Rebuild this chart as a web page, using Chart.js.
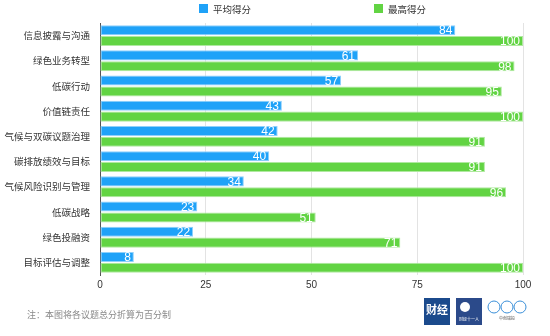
<!DOCTYPE html>
<html>
<head>
<meta charset="utf-8">
<script src="https://cdn.jsdelivr.net/npm/chart.js@4.4.0/dist/chart.umd.min.js"></script>
<style>
html,body{margin:0;padding:0;background:#fff;}
#wrap{position:relative;width:550px;height:336px;}
</style>
</head>
<body>
<div id="wrap"><canvas id="c" width="550" height="336"></canvas></div>
<script>
const categories = ["信息披露与沟通","绿色业务转型","低碳行动","价值链责任","气候与双碳议题治理","碳排放绩效与目标","气候风险识别与管理","低碳战略","绿色投融资","目标评估与调整"];
const avgScores = [84,61,57,43,42,40,34,23,22,8];
const maxScores = [100,98,95,100,91,91,96,51,71,100];
const xTicks = [0,25,50,75,100];
const seriesNames = ["平均得分","最高得分"];
const footnote = "注：本图将各议题总分折算为百分制";

const FONT = '"Noto Sans CJK SC", "Noto Sans", sans-serif';

const labelPlugin = {
  id: 'labels',
  afterDatasetsDraw(chart) {
    const ctx = chart.ctx;
    ctx.save();
    ctx.fillStyle = '#fff';
    ctx.font = '12px "Liberation Sans", Arial, sans-serif';
    ctx.textAlign = 'right';
    ctx.textBaseline = 'middle';
    chart.data.datasets.forEach((ds, i) => {
      const meta = chart.getDatasetMeta(i);
      meta.data.forEach((bar, j) => {
        ctx.fillText(String(ds.data[j]), bar.x - 3, bar.y + 1);
      });
    });
    ctx.restore();
  }
};

const legendPlugin = {
  id: 'customLegend',
  afterDraw(chart) {
    const ctx = chart.ctx;
    const pos = [199, 374];
    ctx.save();
    ctx.font = '9.5px ' + FONT;
    ctx.textBaseline = 'middle';
    ctx.textAlign = 'left';
    chart.data.datasets.forEach((ds, i) => {
      ctx.fillStyle = ds.backgroundColor;
      ctx.fillRect(pos[i], 4, 9, 9);
      ctx.fillStyle = '#333';
      ctx.fillText(ds.label, pos[i] + 14, 9);
    });
    ctx.restore();
  }
};

const extrasPlugin = {
  id: 'extras',
  afterDraw(chart) {
    const ctx = chart.ctx;
    ctx.save();
    ctx.fillStyle = '#8a8a8a';
    ctx.font = '9px ' + FONT;
    ctx.textAlign = 'left';
    ctx.textBaseline = 'middle';
    ctx.fillText(footnote, 27, 315);
    // logo 1
    ctx.fillStyle = '#1b4a8c';
    ctx.fillRect(424, 298, 26, 27);
    ctx.fillStyle = '#fff';
    ctx.font = 'bold 11px ' + FONT;
    ctx.textAlign = 'center';
    ctx.fillText('财经', 437, 310);
    // logo 2
    ctx.fillStyle = '#2b4a8a';
    ctx.fillRect(456, 298, 26, 27);
    ctx.fillStyle = '#fff';
    ctx.beginPath(); ctx.arc(465, 307, 5, 0, Math.PI*2); ctx.fill();
    ctx.font = '4px ' + FONT;
    ctx.fillText('财经十一人', 469, 319);
    // logo 3
    ctx.strokeStyle = '#3a8fd8';
    ctx.lineWidth = 1;
    [494, 507, 520].forEach(cx => { ctx.beginPath(); ctx.arc(cx, 307, 6, 0, Math.PI*2); ctx.stroke(); });
    ctx.fillStyle = '#555';
    ctx.font = '4px ' + FONT;
    ctx.fillText('中创碳投', 507, 318);
    ctx.restore();
  }
};

new Chart(document.getElementById('c'), {
  type: 'bar',
  data: {
    labels: categories,
    datasets: [
      { label: seriesNames[0], data: avgScores, backgroundColor: '#1fa2f8', borderColor: '#8fd0fb', borderWidth: 1, borderSkipped: false },
      { label: seriesNames[1], data: maxScores, backgroundColor: '#62d443', borderColor: '#b0e9a0', borderWidth: 1, borderSkipped: false }
    ]
  },
  options: {
    indexAxis: 'y',
    responsive: false,
    animation: false,
    devicePixelRatio: 1,
    layout: { padding: { left: 0, right: 27, top: 23, bottom: 41 } },
    datasets: { bar: { categoryPercentage: 0.86, barPercentage: 0.93 } },
    plugins: {
      legend: { display: false },
      tooltip: { enabled: false }
    },
    scales: {
      x: {
        min: 0, max: 100,
        afterBuildTicks(scale) { scale.ticks = xTicks.map(v => ({ value: v })); },
        grid: { color: '#e3e3e3', drawTicks: false },
        border: { display: false },
        ticks: { color: '#333', font: { family: '"Liberation Sans", Arial, sans-serif', size: 10 }, padding: 4 }
      },
      y: {
        grid: { display: false, drawTicks: false },
        border: { color: '#555', width: 1 },
        afterFit(scale) { scale.width = 100; },
        ticks: { color: '#333', font: { family: FONT, size: 9.5 }, padding: 10 }
      }
    }
  },
  plugins: [labelPlugin, legendPlugin, extrasPlugin]
});
</script>
</body>
</html>
